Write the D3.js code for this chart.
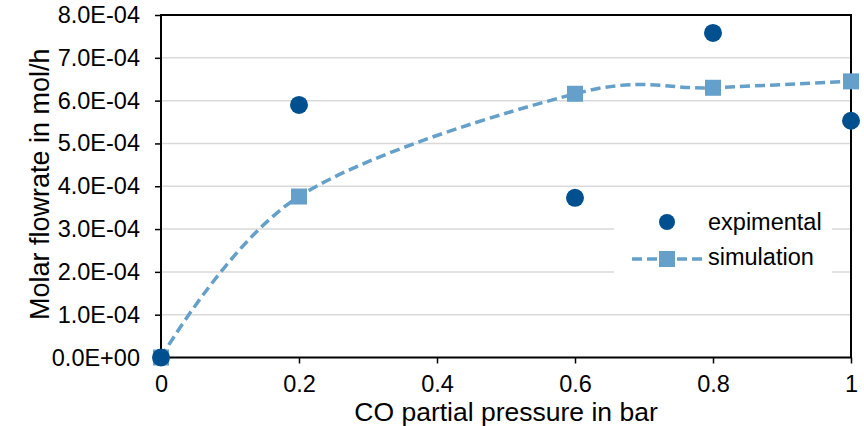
<!DOCTYPE html>
<html>
<head>
<meta charset="utf-8">
<script src="https://cdn.jsdelivr.net/npm/d3@7"></script>
<style>
  body { margin: 0; background: #fff; }
  svg { display: block; font-family: "Liberation Sans", Arial, sans-serif; }
</style>
</head>
<body>
<svg id="chart" width="864" height="426"></svg>
<script>
  // values
  const pressure   = [0, 0.2, 0.6, 0.8, 1];
  const experiment = [0, 5.9e-4, 3.73e-4, 7.58e-4, 5.53e-4];
  const simulation = [0, 3.76e-4, 6.16e-4, 6.30e-4, 6.45e-4];
  const xTicks = [0, 0.2, 0.4, 0.6, 0.8, 1];
  const yTicks = d3.range(0, 9).map(i => i * 1e-4);

  const dark  = "#00508F";
  const light = "#65A0CA";

  const margin = { top: 15, right: 13, bottom: 68.5, left: 161 };
  const W = 864 - margin.left - margin.right;
  const H = 426 - margin.top - margin.bottom;

  const svg = d3.select("#chart");
  const g = svg.append("g").attr("transform", `translate(${margin.left},${margin.top})`);

  const x = d3.scaleLinear().domain([0, 1]).range([0, W]);
  const y = d3.scaleLinear().domain([0, 8e-4]).range([H, 0]);

  // Excel-like scientific labels
  const sci = v => {
    if (v === 0) return "0.0E+00";
    const e = Math.floor(Math.log10(v) + 1e-9);
    const m = v / Math.pow(10, e);
    const s = e < 0 ? "-" : "+";
    return m.toFixed(1) + "E" + s + String(Math.abs(e)).padStart(2, "0");
  };

  // grid
  g.append("g")
    .selectAll("line")
    .data(yTicks.slice(1, -1))
    .join("line")
    .attr("x1", 0).attr("x2", W)
    .attr("y1", d => y(d)).attr("y2", d => y(d))
    .attr("stroke", "#d9d9d9").attr("stroke-width", 1.5);

  // axes
  const yAxis = g.append("g")
    .call(d3.axisLeft(y).tickValues(yTicks).tickFormat(sci).tickSize(6).tickPadding(15));
  const xAxis = g.append("g")
    .attr("transform", `translate(0,${H})`)
    .call(d3.axisBottom(x).tickValues(xTicks).tickFormat(d3.format("")).tickSize(6).tickPadding(12));

  [yAxis, xAxis].forEach(a => {
    a.select(".domain").remove();
    a.selectAll("line").attr("stroke", "#000").attr("stroke-width", 1.5);
    a.selectAll("text").attr("font-size", 23.5).attr("fill", "#000");
  });

  // frame
  g.append("rect")
    .attr("x", 0).attr("y", 0).attr("width", W).attr("height", H)
    .attr("fill", "none").attr("stroke", "#000").attr("stroke-width", 2);

  // axis titles
  g.append("text")
    .attr("x", W / 2).attr("y", H + 63.5)
    .attr("text-anchor", "middle").attr("font-size", 26.5)
    .text("CO partial pressure in bar");
  g.append("text")
    .attr("transform", "rotate(-90)")
    .attr("x", -H / 2 + 2).attr("y", -112)
    .attr("text-anchor", "middle").attr("font-size", 27)
    .text("Molar flowrate in mol/h");

  // simulation line
  const line = d3.line()
    .x(d => x(d[0]))
    .y(d => y(d[1]))
    .curve(d3.curveCardinal.tension(0));

  const simPts = pressure.map((p, i) => [p, simulation[i]]);
  const expPts = pressure.map((p, i) => [p, experiment[i]]);

  g.append("path")
    .datum(simPts)
    .attr("d", line)
    .attr("fill", "none")
    .attr("stroke", light)
    .attr("stroke-width", 3.5)
    .attr("stroke-dasharray", "10,5");

  // legend
  const lg = g.append("g").attr("transform", "translate(453,182)");
  lg.append("rect")
    .attr("x", 0).attr("y", 0).attr("width", 218).attr("height", 85)
    .attr("fill", "#fff");
  lg.append("circle")
    .attr("cx", 53).attr("cy", 25).attr("r", 8).attr("fill", dark);
  lg.append("text")
    .attr("x", 94).attr("y", 33).attr("font-size", 23.5).text("expimental");
  lg.append("line")
    .attr("x1", 18).attr("x2", 88).attr("y1", 62).attr("y2", 62)
    .attr("stroke", light).attr("stroke-width", 3.5).attr("stroke-dasharray", "10,5");
  lg.append("rect")
    .attr("x", 45).attr("y", 54).attr("width", 16).attr("height", 16).attr("fill", light);
  lg.append("text")
    .attr("x", 94).attr("y", 68).attr("font-size", 23.5).text("simulation");

  // markers
  g.selectAll(".sq")
    .data(simPts)
    .join("rect")
    .attr("class", "sq")
    .attr("x", d => x(d[0]) - 8)
    .attr("y", d => y(d[1]) - 8)
    .attr("width", 16).attr("height", 16)
    .attr("fill", light);

  g.selectAll(".dot")
    .data(expPts)
    .join("circle")
    .attr("class", "dot")
    .attr("cx", d => x(d[0]))
    .attr("cy", d => y(d[1]))
    .attr("r", 9)
    .attr("fill", dark);
</script>
</body>
</html>
